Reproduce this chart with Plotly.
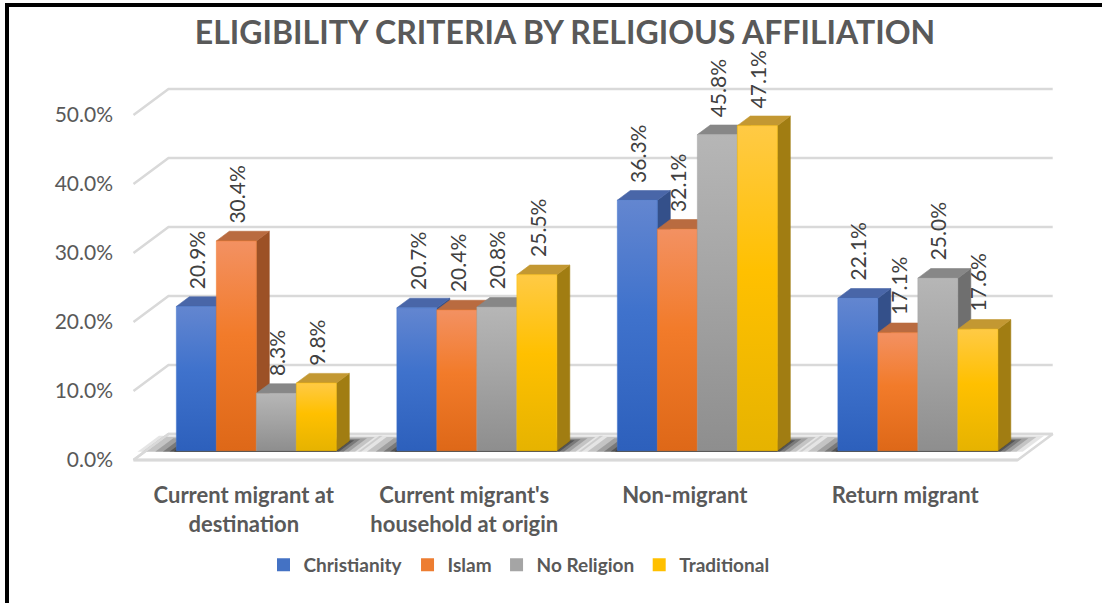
import plotly.graph_objects as go

# ---------------- data ----------------
categories = ["Current migrant at<br>destination",
              "Current migrant's<br>household at origin",
              "Non-migrant",
              "Return migrant"]
series_names = ["Christianity", "Islam", "No Religion", "Traditional"]
christianity = [20.9, 20.7, 36.3, 22.1]
islam = [30.4, 20.4, 32.1, 17.1]
no_religion = [8.3, 20.8, 45.8, 25.0]
traditional = [9.8, 25.5, 47.1, 17.6]
y_ticks = [0, 10, 20, 30, 40, 50]
series_values = [christianity, islam, no_religion, traditional]

# ---------------- styles ----------------
FONT = "Lato"
front_cols = [  # bottom, middle, top
    ("#2D60BC", "#3F72CC", "#6386D0"),
    ("#DE6818", "#F27B2A", "#F39162"),
    ("#8E8E8E", "#A5A5A5", "#B6B6B6"),
    ("#E6B300", "#FFC000", "#FFCA45"),
]
top_cols = ["#4966A8", "#B96B40", "#878787", "#C39832"]
side_cols = ["#34508A", "#9C5126", "#6F6F6F", "#A17D12"]
legend_cols = ["#4472C4", "#ED7D31", "#A5A5A5", "#FFC000"]

# pixel geometry of the pseudo-3D projection
PX_CAT = 220.5       # px per category unit
PX_PCT = 6.9         # px per percent
DX = 35 / PX_CAT     # full depth shift (x, data units)
DY = 26 / PX_PCT     # full depth shift (y, data units)
BAR_W = 40 / PX_CAT
F0, F1 = 0.36, 0.73  # bar front / back depth
XL, XR = -0.50, 3.51  # floor extent (front plane)

L_PX, R_PX, T_PX, B_PX = 120, 1102, 60, 480
x_range = [-(243.75 - L_PX) / PX_CAT, -(243.75 - L_PX) / PX_CAT + (R_PX - L_PX) / PX_CAT]
y_range = [(460 - B_PX) / PX_PCT, (460 - T_PX) / PX_PCT]

fig = go.Figure()


def poly(xs, ys, fill, line=None, width=0.6, **kw):
    fig.add_trace(go.Scatter(
        x=list(xs) + [xs[0]], y=list(ys) + [ys[0]], mode="lines",
        fill="toself", fillcolor=fill,
        line=dict(color=line or fill, width=width),
        hoverinfo="skip", showlegend=False, **kw))


# floor
poly([XL, XR, XR + DX, XL + DX], [0, 0, DY, DY], "#FFFFFF", line="#D9D9D9", width=2.5)

# soft shadows under each group
for k in range(len(categories)):
    gl, gr = k - 2 * BAR_W, k + 2 * BAR_W
    for ext, op in [(0.17, 0.10), (0.13, 0.14), (0.09, 0.18), (0.055, 0.24), (0.025, 0.30), (0.005, 0.35)]:
        d0, d1 = F0 - 0.04, F1 + ext * 1.2
        poly([gl - ext + d0 * DX, gr + ext * 0.7 + d0 * DX, gr + ext * 0.7 + d1 * DX, gl - ext + d1 * DX],
             [d0 * DY, d0 * DY, d1 * DY, d1 * DY], "rgba(0,0,0,%.2f)" % op, width=0)

# gridlines (left wall diagonal + back wall)
for v in y_ticks:
    fig.add_trace(go.Scatter(
        x=[XL, XL + DX, XR + DX], y=[v, v + DY, v + DY], mode="lines",
        line=dict(color="#D9D9D9", width=2.5), hoverinfo="skip", showlegend=False))
# floor front edge
fig.add_trace(go.Scatter(x=[XL, XR], y=[0, 0], mode="lines",
                         line=dict(color="#D9D9D9", width=3), hoverinfo="skip", showlegend=False))

# bars
annotations = []
dd = F1 - F0
for k in range(len(categories)):
    for j, vals in enumerate(series_values):
        v = vals[k]
        xl = k + (j - 2) * BAR_W + F0 * DX
        xr = xl + BAR_W
        y0 = F0 * DY
        y1 = v + F0 * DY
        # side face
        poly([xr, xr + dd * DX, xr + dd * DX, xr], [y0, y0 + dd * DY, y1 + dd * DY, y1], side_cols[j])
        # top face
        poly([xl, xr, xr + dd * DX, xl + dd * DX], [y1, y1, y1 + dd * DY, y1 + dd * DY], top_cols[j])
        # front face with vertical gradient
        b, m, t = front_cols[j]
        fig.add_trace(go.Scatter(
            x=[xl, xr, xr, xl, xl], y=[y0, y0, y1, y1, y0], mode="lines",
            fill="toself",
            fillgradient=dict(type="vertical", start=y0, stop=y1,
                              colorscale=[[0, b], [0.55, m], [1, t]]),
            line=dict(color=m, width=0.5), hoverinfo="skip", showlegend=False))
        annotations.append(dict(
            x=(xl + xr) / 2, y=v + F1 * DY, xref="x", yref="y",
            text=f"{v:.1f}%", textangle=-90, showarrow=False,
            xanchor="center", yanchor="bottom", yshift=6,
            font=dict(family=FONT, size=21, color="#404040")))

# legend entries
for name, c in zip(series_names, legend_cols):
    fig.add_trace(go.Scatter(x=[None], y=[None], mode="markers", name=f"<b>{name}</b>",
                             marker=dict(symbol="square", size=13, color=c)))


def px_to_paper_x(px):
    return (px - L_PX) / (R_PX - L_PX)


def py_to_paper_y(py):
    return (B_PX - py) / (B_PX - T_PX)


# chart border (top and left visible)
shapes = [
    dict(type="line", xref="paper", yref="paper", x0=px_to_paper_x(7), x1=px_to_paper_x(1110),
         y0=py_to_paper_y(5), y1=py_to_paper_y(5), line=dict(color="black", width=4)),
    dict(type="line", xref="paper", yref="paper", x0=px_to_paper_x(7), x1=px_to_paper_x(7),
         y0=py_to_paper_y(3), y1=py_to_paper_y(610), line=dict(color="black", width=4)),
]

fig.update_layout(
    width=1102, height=603,
    margin=dict(l=L_PX, r=1102 - R_PX, t=T_PX, b=603 - B_PX),
    paper_bgcolor="white", plot_bgcolor="white",
    title=dict(text="<b>ELIGIBILITY CRITERIA BY RELIGIOUS AFFILIATION</b>",
               x=565 / 1102, xref="container", xanchor="center",
               y=1 - 33 / 603, yref="container", yanchor="middle",
               font=dict(family=FONT, size=32, color="#595959")),
    xaxis=dict(range=x_range, tickvals=list(range(len(categories))), ticktext=[f"<b>{c}</b>" for c in categories],
               showgrid=False, zeroline=False, showline=False, ticks="",
               tickfont=dict(family=FONT, size=22, color="#595959"), fixedrange=True),
    yaxis=dict(range=y_range, tickvals=y_ticks, ticktext=[f"{v:.1f}%" for v in y_ticks],
               showgrid=False, zeroline=False, showline=False, ticks="", ticklabelstandoff=6,
               tickfont=dict(family=FONT, size=21, color="#595959"), fixedrange=True),
    legend=dict(orientation="h", x=px_to_paper_x(519), xanchor="center",
                y=py_to_paper_y(565), yanchor="middle",
                font=dict(family=FONT, size=19, color="#595959"), itemwidth=30),
    annotations=annotations,
    shapes=shapes,
    showlegend=True,
)

fig.write_html("out.html")
